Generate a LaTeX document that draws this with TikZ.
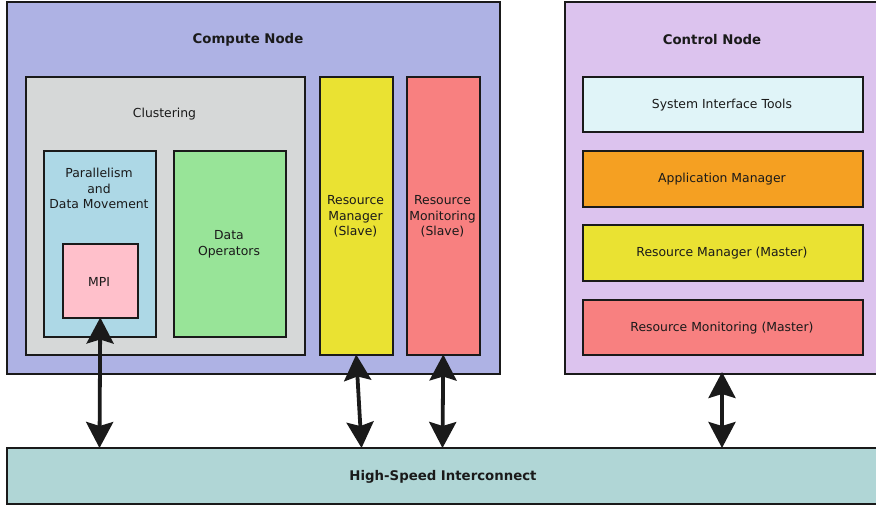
\documentclass[tikz,border=0pt]{standalone}
\usepackage{fontspec}
\setmainfont{DejaVu Sans}
\usetikzlibrary{arrows.meta}
\definecolor{edge}{HTML}{1A1A1A}
\definecolor{cnode}{HTML}{AEB2E4}
\definecolor{clust}{HTML}{D6D8D8}
\definecolor{para}{HTML}{ADD8E6}
\definecolor{mpi}{HTML}{FFC0CB}
\definecolor{dop}{HTML}{98E498}
\definecolor{yel}{HTML}{EAE232}
\definecolor{red}{HTML}{F88080}
\definecolor{ctrl}{HTML}{DCC3EE}
\definecolor{sit}{HTML}{E0F4F8}
\definecolor{app}{HTML}{F5A022}
\definecolor{ic}{HTML}{B0D6D6}
\tikzset{
  box/.style={draw=edge, line width=1.5pt, inner sep=0pt, anchor=north west, align=center, text=edge},
  lbl/.style={inner sep=0pt, align=center, yshift=-1.5pt, font=\fontsize{12.4}{15.5}\selectfont, text=edge},
  title/.style={inner sep=0pt, yshift=-1.5pt, font=\fontsize{13.3}{16}\selectfont\bfseries, text=edge},
  biarrow/.style={line width=3.8pt, draw=edge, {Stealth[length=26pt,width=27pt,inset=4pt]}-{Stealth[length=26pt,width=27pt,inset=4pt]}, shorten <=-1pt, shorten >=-1pt}
}
\begin{document}
\begin{tikzpicture}[x=1pt,y=-1pt]
\useasboundingbox (0,0) rectangle (876,504);
\clip (0,0) rectangle (876,504);
% Compute node
\node[box, fill=cnode, minimum width=493pt, minimum height=372pt] (cn) at (6,1) {};
\node[title] (cnt) at (248,38) {Compute Node};
\node[box, fill=clust, minimum width=279pt, minimum height=278pt] (cl) at (25,76) {};
\node[lbl] (clt) at (164.5,113) {Clustering};
\node[box, fill=para, minimum width=112pt, minimum height=186pt] (pa) at (43,150) {};
\node[lbl] (pat) at (99,187) {Parallelism\\and\\Data Movement};
\node[box, fill=mpi, minimum width=75pt, minimum height=74pt] (mp) at (62,243) {};
\node[lbl] (mpt) at (99,280) {MPI};
\node[box, fill=dop, minimum width=112pt, minimum height=186pt] (do) at (173,150) {};
\node[lbl] (dot) at (229,243) {Data\\Operators};
\node[box, fill=yel, minimum width=73pt, minimum height=278pt] (rms) at (319,76) {};
\node[lbl] (rmst) at (355.5,215) {Resource\\Manager\\(Slave)};
\node[box, fill=red, minimum width=73pt, minimum height=278pt] (rmo) at (406,76) {};
\node[lbl] (rmot) at (442.5,215) {Resource\\Monitoring\\(Slave)};
% Control node
\node[box, fill=ctrl, minimum width=330pt, minimum height=372pt] (ct) at (564,1) {};
\node[title] (ctt) at (712,38) {Control Node};
\node[box, fill=sit, minimum width=280pt, minimum height=55pt] (si) at (582,76) {};
\node[lbl] (sit) at (722,103.5) {System Interface Tools};
\node[box, fill=app, minimum width=280pt, minimum height=56pt] (am) at (582,150) {};
\node[lbl] (amt) at (722,178) {Application Manager};
\node[box, fill=yel, minimum width=280pt, minimum height=56pt] (rmm) at (582,224) {};
\node[lbl] (rmmt) at (722,252) {Resource Manager (Master)};
\node[box, fill=red, minimum width=280pt, minimum height=55pt] (rmom) at (582,299) {};
\node[lbl] (rmomt) at (722,326.5) {Resource Monitoring (Master)};
% Interconnect
\node[box, fill=ic, minimum width=890pt, minimum height=56pt] (ic) at (6,447) {};
\node[title] (ict) at (443,475) {High-Speed Interconnect};
% arrows
\coordinate (a1) at (99.5,447);
\coordinate (a2) at (361.5,447);
\coordinate (a3) at (442.5,447);
\coordinate (a4) at (722,447);
\coordinate (c4) at (722,373);
\draw[biarrow] (mp.south) -- (a1);
\draw[biarrow] (rms.south) -- (a2);
\draw[biarrow] (rmo.south) -- (a3);
\draw[biarrow] (c4) -- (a4);
\end{tikzpicture}
\end{document}
